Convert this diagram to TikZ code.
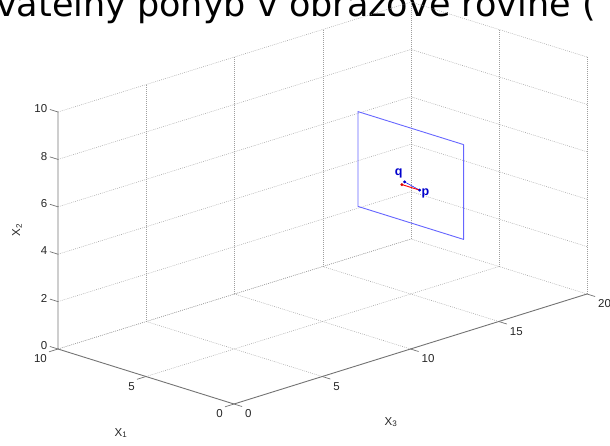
\documentclass[tikz,border=0pt]{standalone}
\usepackage{fontspec}
\setmainfont{Liberation Sans}
\newfontfamily\titlefont{DejaVu Sans}

\begin{document}
\begin{tikzpicture}[x=1pt,y=-1pt,line cap=round,line join=round,
  every node/.style={inner sep=0pt,font=\fontsize{11.5}{13}\selectfont,text=black!85},
  gridline/.style={black!38,line width=0.5pt,line cap=butt,dash pattern=on 0.8pt off 1.2pt},
  axisline/.style={black!55,line width=0.9pt},
  planeline/.style={blue!60,line width=0.9pt},
  ptlabel/.style={font=\bfseries\fontsize{12.5}{14}\selectfont,text=blue!80!black}]
  \useasboundingbox (0,0) rectangle (610,445);
  \clip (0,0) rectangle (610,445);
  % 标题（上方被裁掉）
  \node[anchor=base west,font=\titlefont\fontsize{35}{39}\selectfont,text=black] (title) at (-4,16.5) {vatelný pohyb v obrazové rovině (};
  \begin{scope}[x={(-17.6pt,5.5pt)},y={(0pt,23.7pt)},z={(17.65pt,5.5pt)},shift={(234pt,-404pt)}]
    % 网格：墙 x1=10
    \foreach \h in {0,2,...,10}
      \draw[gridline] (10,\h,0) -- (10,\h,20);
    \foreach \t in {5,10,15,20}
      \draw[gridline] (10,0,\t) -- (10,10,\t);
    % 网格：墙 x3=20
    \foreach \h in {0,2,...,10}
      \draw[gridline] (0,\h,20) -- (10,\h,20);
    \foreach \s in {0,5}
      \draw[gridline] (\s,0,20) -- (\s,10,20);
    % 网格：地面 x2=0
    \foreach \s in {5,10}
      \draw[gridline] (\s,0,0) -- (\s,0,20);
    \foreach \t in {5,10,15}
      \draw[gridline] (0,0,\t) -- (10,0,\t);
    % 坐标轴
    \draw[axisline] (10,10,0) -- (10,0,0) -- (0,0,0) -- (0,0,20);
    % 刻度和数字
    \foreach \h in {0,2,...,10}{
      \draw[axisline,line width=0.7pt] (10,\h,0) -- (10.45,\h,0);
      \node[anchor=east] (t2-\h) at (10.6,\h,0) {\h};
    }
    \foreach \s in {0,5,10}{
      \draw[axisline,line width=0.7pt] (\s,0,0) -- (\s,0,-0.5);
      \node[anchor=north east,xshift=-11pt,yshift=-5.5pt] (t1-\s) at (\s,0,0) {\s};
    }
    \foreach \t in {0,5,...,20}{
      \draw[axisline,line width=0.7pt] (0,0,\t) -- (-0.45,0,\t);
      \node[anchor=north west,xshift=11pt,yshift=-5.5pt] (t3-\t) at (0,0,\t) {\t};
    }
    % 像平面 x3=15
    \draw[planeline] (8,7,15) -- (2,7,15) -- (2,3,15) -- (8,3,15) -- cycle;
    \coordinate (q) at (5.35,4.65,15);
    \coordinate (r) at (5.5,4.5,15);
    \coordinate (p) at (4.5,4.5,15);
    \draw[blue,line width=0.5pt] (q) -- (p);
    \draw[red,line width=0.9pt] (r) -- (p);
    \fill[blue!80!black] (q) circle (1.6pt);
    \fill[red!85!black] (r) circle (1.6pt);
    \fill[blue!80!black] (p) circle (1.6pt);
    \node[ptlabel,xshift=-6pt,yshift=8pt] (qlab) at (q) {q};
    \node[ptlabel,xshift=6pt,yshift=-3pt] (plab) at (p) {p};
  \end{scope}
  % 轴名
  \node (lab1) at (121,433) {X\textsubscript{1}};
  \node (lab3) at (391,422) {X\textsubscript{3}};
  \node[rotate=90] (lab2) at (17,230) {X\textsubscript{2}};
\end{tikzpicture}
\end{document}
